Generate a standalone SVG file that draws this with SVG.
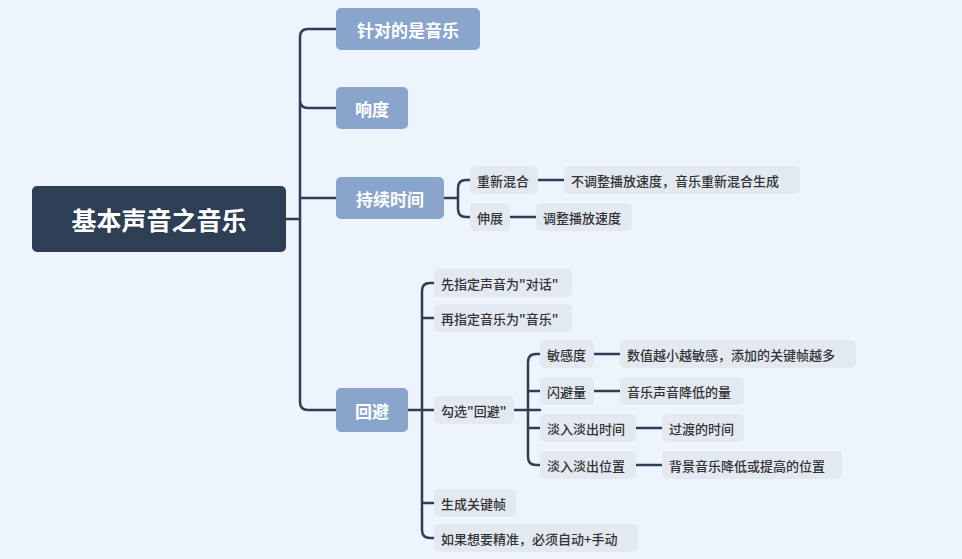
<svg xmlns="http://www.w3.org/2000/svg" width="962" height="559" viewBox="0 0 962 559">
<style>
.c{fill:none;stroke:#2e3e54;stroke-width:2.5;stroke-linecap:round}
.l1 rect{fill:#8aa5cc}
.l1 text{fill:#fff;font:bold 17px "Noto Sans CJK SC",sans-serif;text-anchor:middle;dominant-baseline:central}
.l2 rect{fill:#e3e9f1}
.l2 text{fill:#333;font:500 13px "Noto Sans CJK SC",sans-serif;dominant-baseline:central}
</style>
<rect width="962" height="559" fill="#eef4fb"/>
<g id="connectors">
<path class="c" d="M286 219H300M308 29H336M336 108H308Q300 108 300 100V37Q300 29 308 29M300 100V402Q300 410 308 410H336M300 198H336"/>
<path class="c" d="M444 198H458M470 180H466Q458 180 458 188V209Q458 217 466 217H470M538 180H564M510 217H536"/>
<path class="c" d="M408 410H434M434 283H430Q422 283 422 291V530Q422 538 430 538H434M422 318H434M422 503H434"/>
<path class="c" d="M514 410H540M540 354H536Q528 354 528 362V457Q528 465 536 465H540M528 391H540M528 428H540M594 354H620M594 391H620M636 428H662M636 465H662"/>
</g>
<g id="root"><rect x="32" y="186" width="254" height="66" rx="5" fill="#2e3e54"/><text x="159" y="219" fill="#fff" font-family="Noto Sans CJK SC,sans-serif" font-weight="bold" font-size="25" text-anchor="middle" dominant-baseline="central">基本声音之音乐</text></g>
<g id="n1" class="l1"><rect x="336" y="8" width="144" height="42" rx="5"/><text x="408" y="29">针对的是音乐</text></g>
<g id="n2" class="l1"><rect x="336" y="87" width="72" height="42" rx="5"/><text x="372" y="108">响度</text></g>
<g id="n3" class="l1"><rect x="336" y="177" width="108" height="42" rx="5"/><text x="390" y="198">持续时间</text></g>
<g id="n4" class="l1"><rect x="336" y="388" width="72" height="44" rx="5"/><text x="372" y="410">回避</text></g>
<g class="l2">
<g id="a1"><rect x="470" y="166" width="68" height="28" rx="5"/><text x="477" y="180">重新混合</text></g>
<g id="a2"><rect x="564" y="166" width="236" height="28" rx="5"/><text x="571" y="180">不调整播放速度，音乐重新混合生成</text></g>
<g id="a3"><rect x="470" y="203" width="40" height="28" rx="5"/><text x="477" y="217">伸展</text></g>
<g id="a4"><rect x="536" y="203" width="96" height="28" rx="5"/><text x="543" y="217">调整播放速度</text></g>
<g id="b1"><rect x="434" y="269" width="138" height="28" rx="5"/><text x="441" y="283">先指定声音为"对话"</text></g>
<g id="b2"><rect x="434" y="304" width="138" height="28" rx="5"/><text x="441" y="318">再指定音乐为"音乐"</text></g>
<g id="b3"><rect x="434" y="396" width="80" height="28" rx="5"/><text x="441" y="410">勾选"回避"</text></g>
<g id="b4"><rect x="434" y="489" width="82" height="28" rx="5"/><text x="441" y="503">生成关键帧</text></g>
<g id="b5"><rect x="434" y="524" width="204" height="28" rx="5"/><text x="441" y="538">如果想要精准，必须自动+手动</text></g>
<g id="c1"><rect x="540" y="340" width="54" height="28" rx="5"/><text x="547" y="354">敏感度</text></g>
<g id="c2"><rect x="620" y="340" width="236" height="28" rx="5"/><text x="627" y="354">数值越小越敏感，添加的关键帧越多</text></g>
<g id="c3"><rect x="540" y="377" width="54" height="28" rx="5"/><text x="547" y="391">闪避量</text></g>
<g id="c4"><rect x="620" y="377" width="124" height="28" rx="5"/><text x="627" y="391">音乐声音降低的量</text></g>
<g id="c5"><rect x="540" y="414" width="96" height="28" rx="5"/><text x="547" y="428">淡入淡出时间</text></g>
<g id="c6"><rect x="662" y="414" width="82" height="28" rx="5"/><text x="669" y="428">过渡的时间</text></g>
<g id="c7"><rect x="540" y="451" width="96" height="28" rx="5"/><text x="547" y="465">淡入淡出位置</text></g>
<g id="c8"><rect x="662" y="451" width="180" height="28" rx="5"/><text x="669" y="465">背景音乐降低或提高的位置</text></g>
</g>
</svg>
